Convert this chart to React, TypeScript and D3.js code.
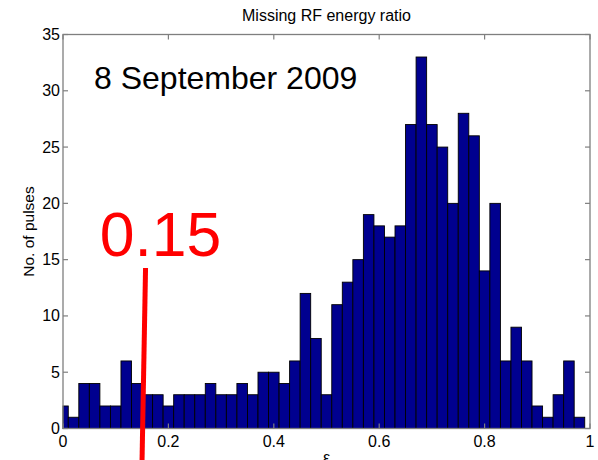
import React from 'react';
import * as d3 from 'd3';

// Histogram of the missing RF energy ratio, bins of width 0.02 centred on 0, 0.02, ... 0.98
const binWidth = 0.02;
const counts = [
  2, 1, 4, 4, 2, 2, 6, 4, 3, 3,
  2, 3, 3, 3, 4, 3, 3, 4, 3, 5,
  5, 4, 6, 12, 8, 3, 11, 13, 15, 19,
  18, 17, 18, 27, 33, 27, 25, 20, 28, 26,
  14, 20, 6, 9, 6, 2, 1, 3, 6, 1,
];
const binCenters = counts.map((_, i) => i * binWidth);

const xTicks = [0, 0.2, 0.4, 0.6, 0.8, 1];
const xTickLabels = ['0', '0.2', '0.4', '0.6', '0.8', '1'];
const yTicks = [0, 5, 10, 15, 20, 25, 30, 35];

const threshold = 0.15;
const thresholdLabel = '0.15';
const dateLabel = '8 September 2009';
const title = 'Missing RF energy ratio';
const xLabel = 'ε';
const yLabel = 'No. of pulses';

const W = 598;
const H = 460;
const FONT = '"Liberation Sans", Arial, Helvetica, sans-serif';
const AXIS = '#7f7f7f';
const BAR = '#00008f';

export default function App() {
  const x = d3.scaleLinear().domain([0, 1]).range([63, 590]);
  const y = d3.scaleLinear().domain([0, 35]).range([428.5, 34.5]);
  const [x0, x1] = x.range();
  const [yb, yt] = y.range();
  const tick = 5;

  return (
    <svg
      width={W}
      height={H}
      style={{ position: 'absolute', left: 0, top: 0, background: '#fff' }}
      fontFamily={FONT}
    >
      <rect x={0} y={0} width={W} height={H} fill="#fff" />

      {/* bars */}
      <g>
        {counts.map((c, i) => {
          const lo = Math.max(0, binCenters[i] - binWidth / 2);
          const hi = Math.min(1, binCenters[i] + binWidth / 2);
          if (c <= 0) return null;
          return (
            <rect
              key={i}
              x={x(lo)}
              y={y(c)}
              width={x(hi) - x(lo)}
              height={y(0) - y(c)}
              fill={BAR}
              stroke="#000"
              strokeWidth={0.9}
            />
          );
        })}
      </g>

      {/* axes box */}
      <rect x={x0} y={yt} width={x1 - x0} height={yb - yt} fill="none" stroke={AXIS} strokeWidth={1.3} />

      {/* x ticks, bottom and top, pointing inward */}
      {xTicks.map((t, i) => (
        <g key={'xt' + i}>
          <line x1={x(t)} x2={x(t)} y1={yb} y2={yb - tick} stroke={AXIS} strokeWidth={1.2} />
          <line x1={x(t)} x2={x(t)} y1={yt} y2={yt + tick} stroke={AXIS} strokeWidth={1.2} />
          <text x={x(t)} y={yb + 18} textAnchor="middle" fontSize={16} fill="#000">
            {xTickLabels[i]}
          </text>
        </g>
      ))}

      {/* y ticks, left and right, pointing inward */}
      {yTicks.map((t, i) => (
        <g key={'yt' + i}>
          <line x1={x0} x2={x0 + tick} y1={y(t)} y2={y(t)} stroke={AXIS} strokeWidth={1.2} />
          <line x1={x1} x2={x1 - tick} y1={y(t)} y2={y(t)} stroke={AXIS} strokeWidth={1.2} />
          <text x={x0 - 3} y={y(t) + 5.5} textAnchor="end" fontSize={16} fill="#000">
            {t}
          </text>
        </g>
      ))}

      {/* titles */}
      <text x={(x0 + x1) / 2} y={21} textAnchor="middle" fontSize={16} fill="#000">
        {title}
      </text>
      <text x={(x0 + x1) / 2} y={463} textAnchor="middle" fontSize={16} fill="#000">
        {xLabel}
      </text>
      <text
        transform={`translate(34,${(yb + yt) / 2}) rotate(-90)`}
        textAnchor="middle"
        fontSize={15.5}
        fill="#000"
      >
        {yLabel}
      </text>

      {/* annotations */}
      <text x={94} y={89} fontSize={32} fill="#000">
        {dateLabel}
      </text>
      <text x={99.7} y={255.5} fontSize={62.5} fill="#ff0000">
        {thresholdLabel}
      </text>
      <line
        x1={x(threshold) + 3.5}
        y1={268}
        x2={x(threshold)}
        y2={H}
        stroke="#ff0000"
        strokeWidth={5}
      />
    </svg>
  );
}
